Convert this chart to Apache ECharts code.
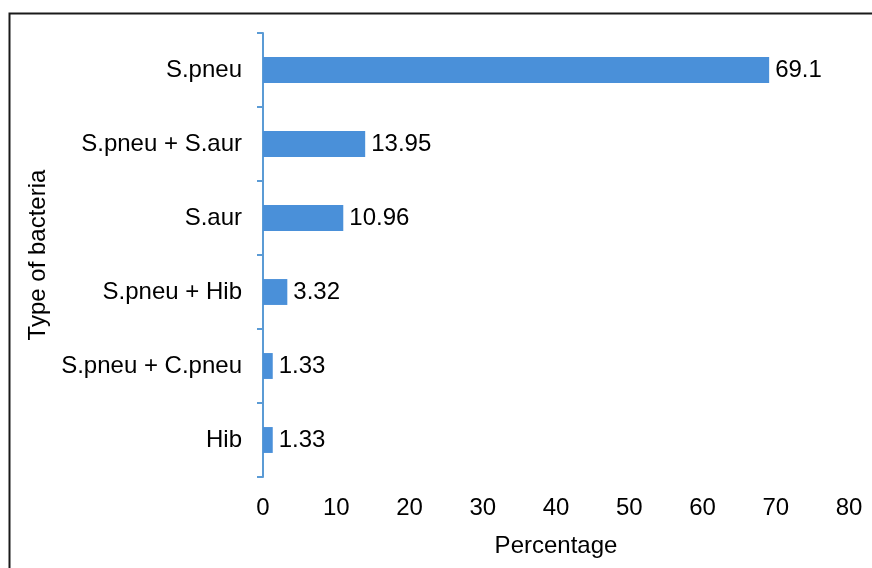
<!DOCTYPE html>
<html>
<head>
<meta charset="utf-8">
<script src="https://cdn.jsdelivr.net/npm/echarts@6/dist/echarts.min.js"></script>
<style>
  html, body { margin: 0; padding: 0; background: #fff; }
  #chart { width: 872px; height: 568px; }
</style>
</head>
<body>
<div id="chart"></div>
<script>
// Bacteria types, listed top to bottom
const categories = ['S.pneu', 'S.pneu + S.aur', 'S.aur', 'S.pneu + Hib', 'S.pneu + C.pneu', 'Hib'];
// Share of each type, in percent
const percentages = [69.1, 13.95, 10.96, 3.32, 1.33, 1.33];
const xMin = 0, xMax = 80, xStep = 10;

const FONT = 'Liberation Sans, Arial, sans-serif';
const FS = 24;
const chart = echarts.init(document.getElementById('chart'), null, { renderer: 'canvas' });

chart.setOption({
  backgroundColor: '#ffffff',
  animation: false,
  textStyle: { fontFamily: FONT },
  graphic: [{
    type: 'rect',
    shape: { x: 9.5, y: 13.5, width: 900, height: 600 },
    style: { fill: 'none', stroke: '#1a1a1a', lineWidth: 2 },
    silent: true,
    z: 100
  }],
  grid: { left: 263, right: 23, top: 33, bottom: 91 },
  xAxis: {
    type: 'value',
    min: xMin, max: xMax, interval: xStep,
    name: 'Percentage',
    nameLocation: 'middle',
    nameGap: 57,
    nameTextStyle: { fontSize: FS, color: '#000', fontFamily: FONT },
    axisLine: { show: false },
    axisTick: { show: false },
    splitLine: { show: false },
    axisLabel: { fontSize: FS, color: '#000', margin: 19, fontFamily: FONT }
  },
  yAxis: {
    type: 'category',
    data: categories,
    inverse: true,
    name: 'Type of bacteria',
    nameLocation: 'middle',
    nameGap: 208,
    nameTextStyle: { fontSize: FS, color: '#000', fontFamily: FONT },
    axisLine: { show: true, lineStyle: { color: '#5b9bd5', width: 2 } },
    axisTick: { show: true, length: 6, lineStyle: { color: '#5b9bd5', width: 2 } },
    axisLabel: { fontSize: FS, color: '#000', margin: 21, fontFamily: FONT }
  },
  series: [{
    type: 'bar',
    data: percentages,
    barWidth: '35%',
    itemStyle: { color: '#4a90d9' },
    label: {
      show: true,
      position: 'right',
      distance: 6,
      fontSize: FS,
      color: '#000',
      fontFamily: FONT,
      formatter: p => String(p.value)
    }
  }]
});
</script>
</body>
</html>
